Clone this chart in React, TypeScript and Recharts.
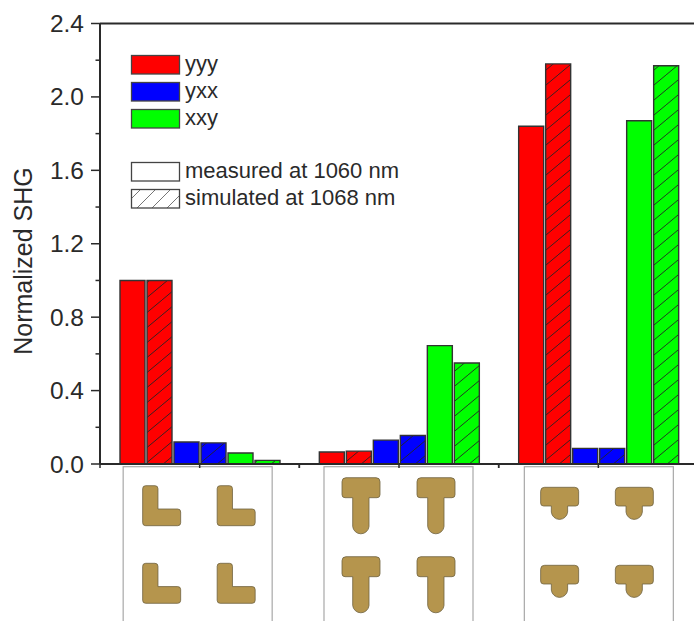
import React from 'react';
import { BarChart, Bar, XAxis, YAxis, ReferenceLine, Legend } from 'recharts';

const categories = ['L', 'T', 'short T'];
const yyyMeasured = [1.0, 0.065, 1.84];
const yyySimulated = [1.0, 0.07, 2.18];
const yxxMeasured = [0.12, 0.13, 0.085];
const yxxSimulated = [0.115, 0.155, 0.085];
const xxyMeasured = [0.06, 0.645, 1.87];
const xxySimulated = [0.02, 0.55, 2.17];
const yTicks = [0, 0.2, 0.4, 0.6, 0.8, 1.0, 1.2, 1.4, 1.6, 1.8, 2.0, 2.2, 2.4];
const colorNames = ['yyy', 'yxx', 'xxy'];
const colorValues = ['#ff0000', '#0000ff', '#00ff00'];
const styleNames = ['measured at 1060 nm', 'simulated at 1068 nm'];

const data = categories.map((name, i) => ({
  name,
  yyyMeasured: yyyMeasured[i],
  yyySimulated: yyySimulated[i],
  yxxMeasured: yxxMeasured[i],
  yxxSimulated: yxxSimulated[i],
  xxyMeasured: xxyMeasured[i],
  xxySimulated: xxySimulated[i],
}));

const FONT = '"Liberation Sans", Arial, sans-serif';
const INK = '#2a2a2a';
const GOLD = '#b5954d';
const BAND = 199.33;

const lShape = 'M3 0H12.3Q15.3 0 15.3 3V23.3H35Q38 23.3 38 26.3V37Q38 40 35 40H3Q0 40 0 37V3Q0 0 3 0Z';
const teeShape = (h: number, top: number) =>
  `M4 0H34Q38 0 38 4V${top - 3}Q38 ${top} 35 ${top}H27V${h - 8.2}A8.2 8.2 0 0 1 10.7 ${h - 8.2}V${top}H3Q0 ${top} 0 ${top - 3}V4Q0 0 4 0Z`;

// panels under each group, offsets measured from the group's centre tick
const panels = [
  { left: -76.5, path: lShape, cols: [-57, 17.5], rows: [485.7, 563.3] },
  { left: -75, path: teeShape(57, 20), cols: [-57, 18], rows: [477.7, 556.7] },
  { left: -74, path: teeShape(33, 18.7), cols: [-57.7, 17], rows: [487.3, 565.3] },
];

const LeftTick = ({ x, y, payload, index }: any) => {
  const major = index % 2 === 0;
  return (
    <g>
      <line x1={x - (major ? 9 : 4.5)} x2={x} y1={y} y2={y} stroke={INK} strokeWidth={1.5} />
      {major && (
        <text x={x - 16} y={y + 8.5} textAnchor="end" fontSize={24.5} fontFamily={FONT} fill={INK}>
          {payload.value.toFixed(1)}
        </text>
      )}
    </g>
  );
};

const RightTick = ({ x, y, index }: any) => (
  <line x1={x - (index % 2 === 0 ? 9 : 4.5)} x2={x} y1={y} y2={y} stroke={INK} strokeWidth={1.5} />
);

const PanelTick = ({ x, index }: any) => {
  const p = panels[index];
  const marks = [x - BAND / 2, x, x + BAND / 2];
  return (
    <g>
      <rect x={x + p.left} y={466.7} width={149} height={200} fill="#fff" stroke="#a8a8a8" strokeWidth={1.2} />
      {marks.map((m) => (
        <line key={m} x1={m} x2={m} y1={464} y2={468} stroke={INK} strokeWidth={1.5} />
      ))}
      {p.cols.map((cx) =>
        p.rows.map((ry) => (
          <path
            key={`${cx}-${ry}`}
            d={p.path}
            transform={`translate(${x + cx},${ry})`}
            fill={GOLD}
            stroke="#6f6240"
            strokeWidth={0.8}
          />
        ))
      )}
    </g>
  );
};

const Swatch = ({ top, height, fill, width = 48 }: any) => (
  <rect x={131.5} y={top} width={width} height={height} fill={fill} stroke="#444" strokeWidth={1.3} />
);

const LegendBox = () => (
  <svg width={420} height={230} style={{ display: 'block', overflow: 'visible' }}>
    <defs>
      <pattern id="hatchWhite" patternUnits="userSpaceOnUse" width={15} height={15}>
        <path d="M-1 16L16 -1" stroke="#666" strokeWidth={0.9} />
      </pattern>
    </defs>
    {colorNames.map((name, i) => {
      const top = 55.5 + i * 27;
      return (
        <g key={name}>
          <Swatch top={top} height={18.5} fill={colorValues[i]} />
          <text x={185} y={top + 15} fontSize={22} fontFamily={FONT} fill={INK}>
            {name}
          </text>
        </g>
      );
    })}
    {styleNames.map((name, i) => {
      const top = 162.5 + i * 27;
      return (
        <g key={name}>
          <Swatch top={top} height={18.5} fill={i === 0 ? '#fff' : 'url(#hatchWhite)'} />
          <text x={185} y={top + 15.5} fontSize={22} fontFamily={FONT} fill={INK}>
            {name}
          </text>
        </g>
      );
    })}
  </svg>
);

const barStroke = { stroke: '#333', strokeWidth: 1.4, isAnimationActive: false };

export default function App() {
  return (
    <div style={{ position: 'absolute', left: 0, top: 0, width: 694, height: 621, overflow: 'hidden', background: '#fff' }}>
      <BarChart
        width={712}
        height={621}
        data={data}
        margin={{ top: 23.5, right: 14, bottom: 0, left: 0 }}
        barSize={25}
        barGap={2}
      >
        <defs>
          {colorValues.map((c, i) => (
            <pattern key={c} id={`hatch${i}`} patternUnits="userSpaceOnUse" width={18} height={15}>
              <rect width={18} height={15} fill={c} />
              <path d="M-1.2 16L19.2 -1" stroke="#222" strokeWidth={0.9} />
            </pattern>
          ))}
        </defs>
        <XAxis
          dataKey="name"
          height={157}
          interval={0}
          tickLine={false}
          axisLine={{ stroke: INK, strokeWidth: 2 }}
          tick={<PanelTick />}
        />
        <YAxis
          width={100}
          domain={[0, 2.4]}
          ticks={yTicks}
          interval={0}
          tickSize={0}
          tickMargin={0}
          tickLine={false}
          axisLine={{ stroke: INK, strokeWidth: 2 }}
          tick={<LeftTick />}
          label={{
            value: 'Normalized SHG',
            angle: -90,
            position: 'insideLeft',
            dx: 18,
            dy: 111,
            fontSize: 25,
            fontFamily: FONT,
            fill: INK,
          }}
        />
        <YAxis
          yAxisId="right"
          orientation="right"
          width={0}
          domain={[0, 2.4]}
          ticks={yTicks}
          interval={0}
          tickSize={0}
          tickMargin={0}
          tickLine={false}
          axisLine={{ stroke: INK, strokeWidth: 2 }}
          tick={<RightTick />}
        />
        <ReferenceLine y={2.4} stroke={INK} strokeWidth={2} />
        <Bar dataKey="yyyMeasured" fill={colorValues[0]} {...barStroke} />
        <Bar dataKey="yyySimulated" fill="url(#hatch0)" {...barStroke} />
        <Bar dataKey="yxxMeasured" fill={colorValues[1]} {...barStroke} />
        <Bar dataKey="yxxSimulated" fill="url(#hatch1)" {...barStroke} />
        <Bar dataKey="xxyMeasured" fill={colorValues[2]} {...barStroke} />
        <Bar dataKey="xxySimulated" fill="url(#hatch2)" {...barStroke} />
        <Legend
          align="center"
          verticalAlign="middle"
          content={<LegendBox />}
          wrapperStyle={{ position: 'absolute', left: 0, top: 0, width: 420, height: 230 }}
        />
      </BarChart>
    </div>
  );
}
